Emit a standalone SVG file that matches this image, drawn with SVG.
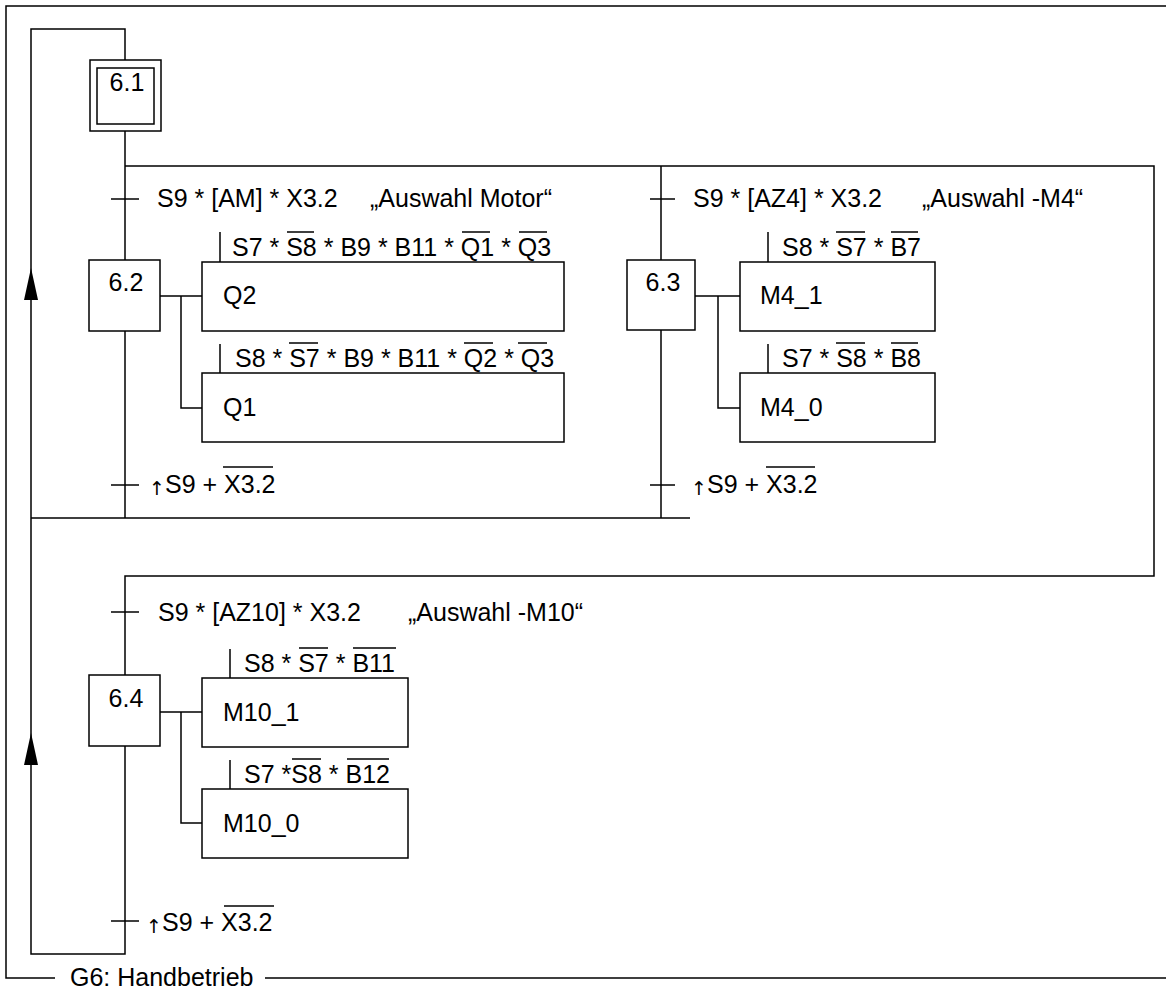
<svg xmlns="http://www.w3.org/2000/svg" width="1166" height="991" viewBox="0 0 1166 991">
<style>
.l{fill:none;stroke:#000;stroke-width:1.5}
.o{stroke:#000;stroke-width:1.3}
.box{fill:#fff;stroke:#000;stroke-width:1.5}
text{font-family:"Liberation Sans",Arial,sans-serif;font-size:25px;fill:#000}
.up{font-family:"DejaVu Sans","Liberation Sans",sans-serif;font-size:19px}
</style>
<rect width="1166" height="991" fill="#fff"/>
<g id="frame">
<path class="l" d="M1166,6 H6 V978 H55 M265,978 H1166"/>
<text x="70" y="986">G6: Handbetrieb</text>
</g>
<g id="connectors">
<path class="l" d="M125,60 V29 H31 V954 H125 V746"/>
<polygon points="31,268 24,300 38,300" fill="#000"/>
<polygon points="31,733 24,765 38,765" fill="#000"/>
<path class="l" d="M125,131 V260 M125,166 H1154 V576 H125 V675"/>
<path class="l" d="M125,331 V518 M31,518 H690 M661,166 V260 M661,330 V518"/>
<path class="l" d="M111,199 H139 M650,199 H675 M111,485 H139 M650,485 H675 M111,612 H139 M111,921 H139"/>
<path class="l" d="M160,296 H202 M181,296 V408 H202 M695,296 H740 M718,296 V408 H740 M160,712 H202 M181,712 V823 H202"/>
<path class="l" d="M220,232 V262 M220,344 V373 M768,232 V262 M768,344 V373 M230,649 V678 M230,760 V789"/>
</g>
<g id="step61">
<rect class="box" x="90" y="60" width="71" height="71"/>
<rect class="box" x="97" y="68" width="57" height="56"/>
<text x="127" y="91" text-anchor="middle">6.1</text>
</g>
<g id="t1">
<text x="157" y="207">S9 * [AM] * X3.2</text>
<text x="370" y="207">„Auswahl Motor“</text>
</g>
<g id="t2">
<text x="693" y="207">S9 * [AZ4] * X3.2</text>
<text x="922" y="207">„Auswahl -M4“</text>
</g>
<g id="step62">
<rect class="box" x="89" y="260" width="71" height="71"/>
<text x="126" y="291" text-anchor="middle">6.2</text>
</g>
<g id="actQ2">
<rect class="box" x="202" y="262" width="362" height="69"/>
<text x="223" y="304">Q2</text>
<text x="232" y="256">S7 * S8 * B9 * B11 * Q1 * Q3</text>
<path class="o" d="M287,232 H314 M462,232 H490 M519,232 H547"/>
</g>
<g id="actQ1">
<rect class="box" x="202" y="373" width="362" height="69"/>
<text x="223" y="416">Q1</text>
<text x="235" y="367">S8 * S7 * B9 * B11 * Q2 * Q3</text>
<path class="o" d="M289,343 H318 M464,343 H493 M518,343 H547"/>
</g>
<g id="step63">
<rect class="box" x="627" y="260" width="68" height="70"/>
<text x="663" y="291" text-anchor="middle">6.3</text>
</g>
<g id="actM41">
<rect class="box" x="740" y="262" width="195" height="69"/>
<text x="760" y="304">M4_1</text>
<text x="782" y="256">S8 * S7 * B7</text>
<path class="o" d="M836,232 H865 M891,232 H918"/>
</g>
<g id="actM40">
<rect class="box" x="740" y="373" width="195" height="69"/>
<text x="760" y="416">M4_0</text>
<text x="782" y="367">S7 * S8 * B8</text>
<path class="o" d="M836,343 H865 M891,343 H918"/>
</g>
<g id="t3">
<text x="149" y="495" class="up">↑</text>
<text x="165" y="493">S9 + X3.2</text>
<path class="o" d="M223,467 H273"/>
</g>
<g id="t4">
<text x="691" y="495" class="up">↑</text>
<text x="707" y="493">S9 + X3.2</text>
<path class="o" d="M766,467 H815"/>
</g>
<g id="t5">
<text x="158" y="621">S9 * [AZ10] * X3.2</text>
<text x="408" y="621">„Auswahl -M10“</text>
</g>
<g id="step64">
<rect class="box" x="89" y="675" width="71" height="71"/>
<text x="126" y="707" text-anchor="middle">6.4</text>
</g>
<g id="actM101">
<rect class="box" x="202" y="678" width="206" height="69"/>
<text x="223" y="721">M10_1</text>
<text x="244" y="672">S8 * S7 * B11</text>
<path class="o" d="M299,648 H328 M353,648 H396"/>
</g>
<g id="actM100">
<rect class="box" x="202" y="789" width="206" height="69"/>
<text x="223" y="832">M10_0</text>
<text x="244" y="783">S7 *S8 * B12</text>
<path class="o" d="M292,759 H321 M347,759 H389"/>
</g>
<g id="t6">
<text x="146" y="933" class="up">↑</text>
<text x="162" y="931">S9 + X3.2</text>
<path class="o" d="M224,906 H274"/>
</g>
</svg>
